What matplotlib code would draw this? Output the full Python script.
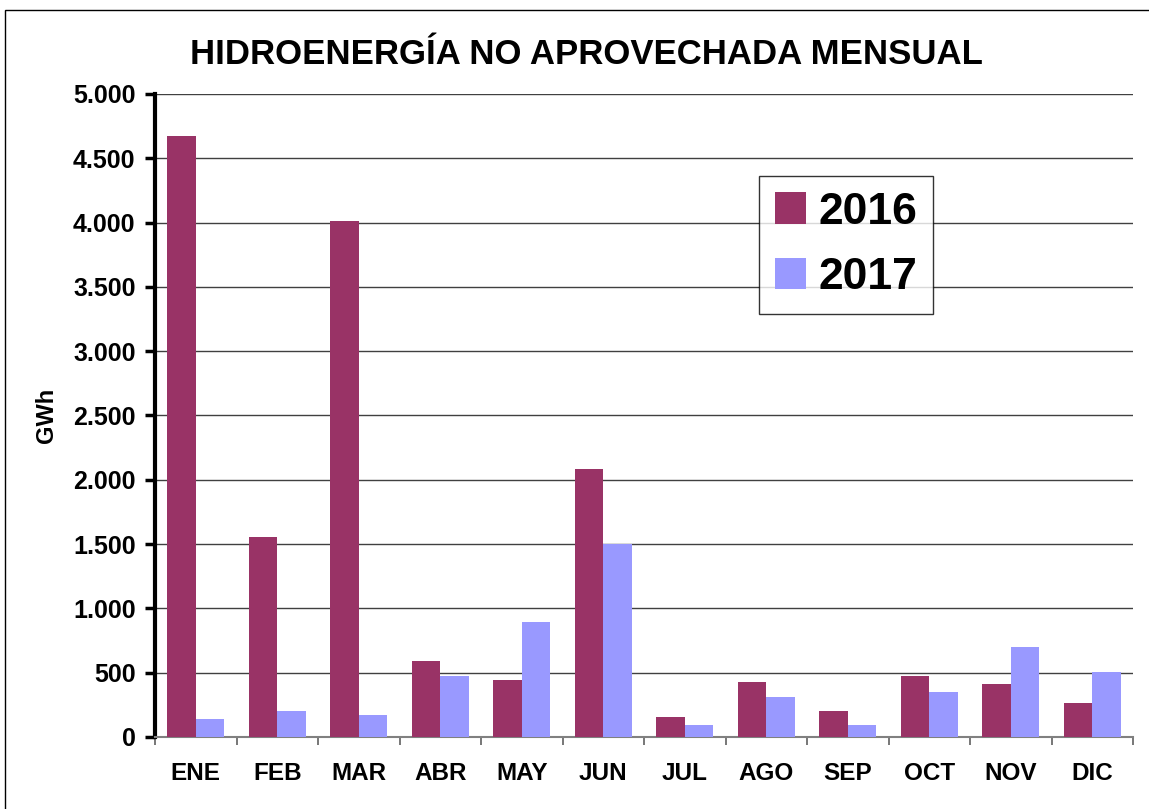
import matplotlib
matplotlib.use('Agg')
import matplotlib.pyplot as plt
from matplotlib.patches import Rectangle
from matplotlib.ticker import FuncFormatter
import numpy as np

months = ['ENE', 'FEB', 'MAR', 'ABR', 'MAY', 'JUN',
          'JUL', 'AGO', 'SEP', 'OCT', 'NOV', 'DIC']
values_2016 = [4670, 1555, 4012, 591, 443, 2084, 155, 428, 202, 474, 412, 264]
values_2017 = [140, 202, 171, 474, 894, 1501, 93, 311, 93, 350, 700, 505]
y_ticks = [0, 500, 1000, 1500, 2000, 2500, 3000, 3500, 4000, 4500, 5000]

plt.rcParams['font.family'] = ['Liberation Sans', 'DejaVu Sans']
plt.rcParams['font.weight'] = 'bold'

fig = plt.figure(figsize=(11.49, 8.09), dpi=100)
fig.patch.set_facecolor('white')
ax = fig.add_axes([155 / 1149, 72 / 809, 978 / 1149, 643 / 809])

# Border around the whole chart (right/bottom edges fall outside the image)
fig.patches.append(Rectangle((5 / 1149, -10 / 809), 1160 / 1149, 809 / 809,
                             transform=fig.transFigure, fill=False,
                             edgecolor='black', linewidth=1.0))

x = np.arange(len(months))
width = 0.35
ax.bar(x - width / 2, values_2016, width, color='#993366', label='2016', zorder=3)
ax.bar(x + width / 2, values_2017, width, color='#9999FF', label='2017', zorder=3)

ax.set_xlim(-0.5, len(months) - 0.5)
ax.set_ylim(0, 5000)
ax.set_yticks(y_ticks)
ax.yaxis.set_major_formatter(FuncFormatter(lambda v, p: f'{int(v):,}'.replace(',', '.')))
ax.yaxis.grid(True, color='#404040', linewidth=1.0, zorder=0)

# boundaries get tick marks, centres get the labels
ax.set_xticks(np.arange(len(months) + 1) - 0.5)
ax.set_xticklabels([])
ax.set_xticks(x, minor=True)
ax.set_xticklabels(months, minor=True, fontsize=17.5, fontweight='bold')
ax.tick_params(axis='x', which='major', length=6, width=1.2, color='#606060', direction='out')
ax.tick_params(axis='x', which='minor', length=0, pad=18)
ax.tick_params(axis='y', length=7, width=2.5, color='black', direction='out',
               labelsize=18, pad=7)
for lbl in ax.get_yticklabels():
    lbl.set_fontweight('bold')

for side in ['top', 'right']:
    ax.spines[side].set_visible(False)
ax.spines['left'].set_linewidth(3)
ax.spines['left'].set_color('black')
ax.spines['bottom'].set_linewidth(1.5)
ax.spines['bottom'].set_color('#808080')

ax.set_ylabel('GWh', fontsize=17, fontweight='bold', labelpad=11)

fig.text(586 / 1149, 1 - 55 / 809, 'HIDROENERGÍA NO APROVECHADA MENSUAL',
         ha='center', va='center', fontsize=25, fontweight='bold')

leg = ax.legend(loc='upper left', bbox_to_anchor=((759 - 155) / 978, (737 - 176) / 643),
                prop={'weight': 'bold', 'size': 32},
                frameon=True, fancybox=False, edgecolor='black',
                handlelength=0.7, handleheight=0.7, handletextpad=0.3,
                borderpad=0.35, labelspacing=0.55, borderaxespad=0)
leg.get_frame().set_linewidth(1.0)

fig.savefig('out.png', dpi=100, facecolor='white')
